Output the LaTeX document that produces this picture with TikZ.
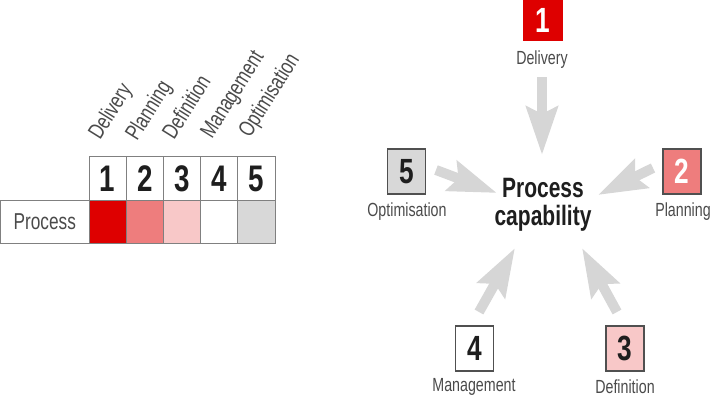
\documentclass[tikz,border=0pt]{standalone}
\usepackage{fontspec}
\setmainfont[FakeStretch=0.75]{Liberation Sans}
\usetikzlibrary{arrows.meta}
\definecolor{cRed}{HTML}{DE0000}
\definecolor{cSalmon}{HTML}{EE7D7D}
\definecolor{cPink}{HTML}{F8C8C8}
\definecolor{cGrey}{HTML}{D8D8D8}
\definecolor{cArrow}{HTML}{D6D6D6}
\definecolor{cLine}{HTML}{808080}
\definecolor{cBorder}{HTML}{505050}
\definecolor{cLabel}{HTML}{4A4A4A}
\definecolor{cText}{HTML}{1E1E1E}
\begin{document}
\begin{tikzpicture}[x=1pt,y=-1pt,
  cell/.style={draw=cLine, line width=1pt, minimum width=37.2pt, inner sep=0pt, outer sep=0pt},
  numcell/.style={cell, minimum height=45pt, font=\fontsize{37}{38}\selectfont\bfseries, text=cText},
  valcell/.style={cell, minimum height=43pt},
  rowlabel/.style={draw=cLine, line width=1pt, minimum width=88.5pt, minimum height=43pt, inner sep=0pt,
    font=\fontsize{23}{24}\selectfont, text=cLabel},
  rotlabel/.style={anchor=base west, rotate=58, inner sep=0pt, font=\fontsize{22.5}{23}\selectfont, text=cLabel},
  numbox/.style={draw=cBorder, line width=1.2pt, minimum width=38pt, minimum height=45pt, inner sep=0pt,
    font=\fontsize{35}{36}\selectfont\bfseries, text=cText},
  boxlabel/.style={inner sep=0pt, font=\fontsize{19}{20}\selectfont, text=cLabel},
  bigarrow/.style={draw=cArrow, line width=10pt, -{Stealth[length=48pt, width=31pt, inset=7pt]}}
]
\useasboundingbox (0,0) rectangle (716,405);

% ---------- table ----------
\node[rowlabel] (proc) at (44.75,222) {Process};
\foreach \i/\c in {1/cRed,2/cSalmon,3/cPink,4/white,5/cGrey}{
  \node[numcell] (n\i) at ({89+37.2*(\i-0.5)},178.5) {\i};
  \node[valcell, fill=\c] (v\i) at ({89+37.2*(\i-0.5)},222) {};
}
\node[rotlabel] (t1) at (100,141) {Delivery};
\node[rotlabel] (t2) at (137,142) {Planning};
\node[rotlabel] (t3) at (174,141) {Definition};
\node[rotlabel] (t4) at (212,140) {Management};
\node[rotlabel] (t5) at (250,139) {Optimisation};

% ---------- right diagram ----------
\node[numbox, fill=cRed, draw=cRed, minimum height=40pt, text=white] (b1) at (543,20) {1};
\node[boxlabel] (l1) at (542,60) {Delivery};
\node[numbox, fill=cSalmon, text=white] (b2) at (682,171.5) {2};
\node[boxlabel] (l2) at (683,212) {Planning};
\node[numbox, fill=cPink] (b3) at (625,348.5) {3};
\node[boxlabel] (l3) at (625,387) {Definition};
\node[numbox, fill=white] (b4) at (474.5,348.5) {4};
\node[boxlabel] (l4) at (474,387) {Management};
\node[numbox, fill=cGrey] (b5) at (406.5,171.5) {5};
\node[boxlabel] (l5) at (407,212) {Optimisation};

\node[align=center, inner sep=0pt, text=cText, font=\fontsize{28}{28}\selectfont\bfseries] (pc) at (543,205) {Process\\capability};

\coordinate (s1) at (542,77);  \coordinate (e1) at (542,155);
\coordinate (s2) at (653,168); \coordinate (e2) at (598,195);
\coordinate (s3) at (617,312); \coordinate (e3) at (582,248);
\coordinate (s4) at (479,312); \coordinate (e4) at (515,248);
\coordinate (s5) at (436,170); \coordinate (e5) at (497,193);
\foreach \i in {1,...,5}{ \draw[bigarrow] (s\i) -- (e\i); }
\end{tikzpicture}
\end{document}
